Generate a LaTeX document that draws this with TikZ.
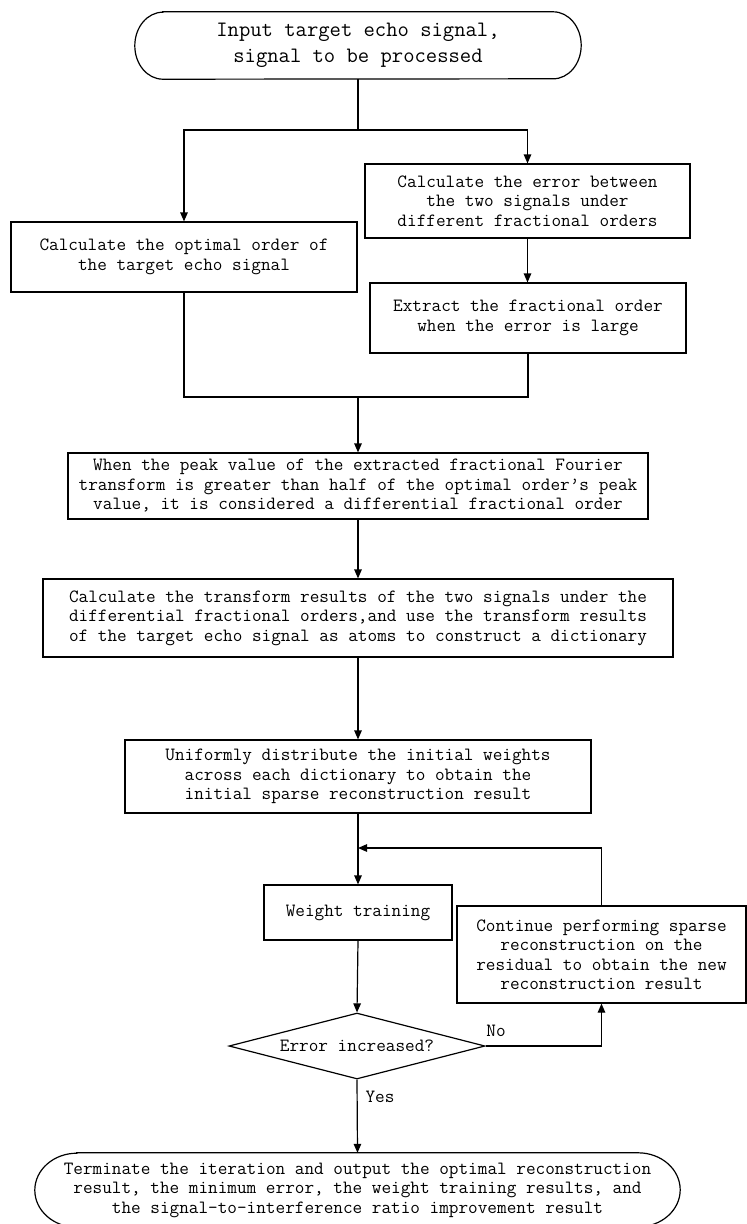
\documentclass[tikz,border=0pt]{standalone}
\usepackage{fontspec}
\usetikzlibrary{arrows.meta,shapes.geometric}
\begin{document}
\begin{tikzpicture}[x=1pt,y=1pt,
  txt/.style={font=\ttfamily\fontsize{18.7pt}{19.5pt}\selectfont},
  box/.style={txt, draw, line width=1.2pt, rectangle, inner sep=0pt, align=center},
  term/.style={txt, inner sep=0pt, align=center},
  ln/.style={line width=1.2pt},
  arr/.style={line width=1.2pt, -{Triangle[length=9pt,width=7.5pt]}},
  lbl/.style={txt, inner sep=0pt}]
\useasboundingbox (0,0) rectangle (747,-1224);
\fill[white] (0,0) rectangle (747,-1224);

% top terminal
\node[term, minimum width=446pt, minimum height=67pt, font=\ttfamily\fontsize{22pt}{26pt}\selectfont] (top) at (358,-45.5)
  {Input target echo signal,\\signal to be processed};
\draw[ln] ([xshift=28pt]top.north west) -- ([xshift=-28pt]top.north east)
  arc[start angle=90, end angle=-90, x radius=28pt, y radius=33.5pt]
  -- ([xshift=28pt]top.south west)
  arc[start angle=270, end angle=90, x radius=28pt, y radius=33.5pt] -- cycle;

\node[box, minimum width=346pt, minimum height=70pt] (left) at (184,-257)
  {Calculate the optimal order of\\the target echo signal};
\node[box, minimum width=325pt, minimum height=74pt] (r1) at (527.5,-201)
  {Calculate the error between\\the two signals under\\different fractional orders};
\node[box, minimum width=316pt, minimum height=70pt] (r2) at (528,-318)
  {Extract the fractional order\\when the error is large};
\node[box, minimum width=580pt, minimum height=66pt] (b3) at (358,-486)
  {When the peak value of the extracted fractional Fourier\\transform is greater than half of the optimal order’s peak\\value, it is considered a differential fractional order};
\node[box, minimum width=630pt, minimum height=78pt] (b4) at (358,-618)
  {Calculate the transform results of the two signals under the\\differential fractional orders,and use the transform results\\of the target echo signal as atoms to construct a dictionary};
\node[box, minimum width=466pt, minimum height=73pt] (b5) at (358,-776.5)
  {Uniformly distribute the initial weights\\across each dictionary to obtain the\\initial sparse reconstruction result};
\node[box, minimum width=188pt, minimum height=55pt] (wt) at (358,-912.5)
  {Weight training};
\node[box, minimum width=289pt, minimum height=97pt] (cont) at (601.5,-954.5)
  {Continue performing sparse\\reconstruction on the\\residual to obtain the new\\reconstruction result};
\node[txt, draw, line width=1.2pt, diamond, inner sep=0pt, aspect=3.88, minimum width=256pt, minimum height=66pt] (dia) at (357,-1046)
  {Error increased?};

% bottom terminal (clipped by page edge)
\node[term, minimum width=645pt, minimum height=74pt] (bot) at (357.5,-1190)
  {Terminate the iteration and output the optimal reconstruction\\result, the minimum error, the weight training results, and\\the signal-to-interference ratio improvement result};
\begin{scope}
\clip (0,0) rectangle (747,-1224);
\draw[ln] ([xshift=42pt]bot.north west) -- ([xshift=-42pt]bot.north east)
  arc[start angle=90, end angle=-90, x radius=42pt, y radius=37pt]
  -- ([xshift=42pt]bot.south west)
  arc[start angle=270, end angle=90, x radius=42pt, y radius=37pt] -- cycle;
\end{scope}

% connectors
\coordinate (j1) at (358,-130);
\coordinate (j2) at (358,-397);
\coordinate (j3) at (358,-848);
\draw[ln] (top.south) -- (j1);
\draw[arr] (j1) -| (left.north);
\draw[arr] (j1) -| (r1.north);
\draw[arr] (r1.south) -- (r1.south |- r2.north);
\draw[ln] (left.south) |- (j2) -| (r2.south);
\draw[arr] (j2) -- (b3.north);
\draw[arr] (b3.south) -- (b4.north);
\draw[arr] (b4.south) -- (b5.north);
\draw[arr] (b5.south) -- (wt.north);
\draw[arr] (wt.south) -- (dia.north);
\draw[arr] (dia.east) -| (cont.south);
\draw[arr] (cont.north) |- (j3);
\draw[arr] (dia.south) -- (bot.north);

\node[lbl] (no) at (496,-1031) {No};
\node[lbl] (yes) at (380,-1097) {Yes};
\end{tikzpicture}
\end{document}
